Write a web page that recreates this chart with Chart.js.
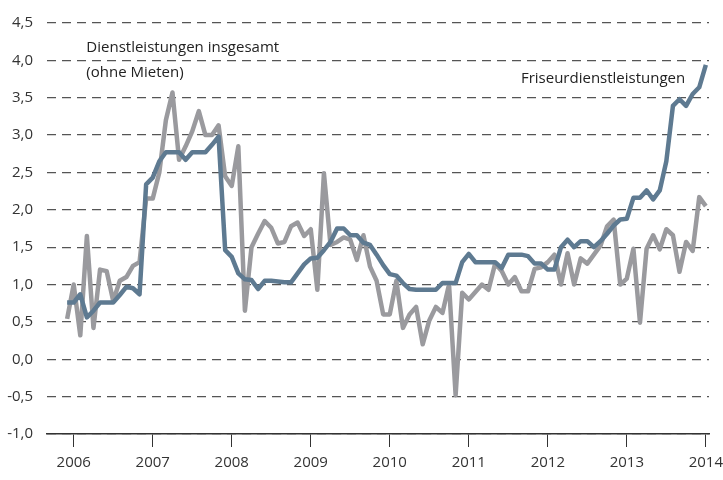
<!DOCTYPE html>
<html>
<head>
<meta charset="utf-8">
<script src="https://cdn.jsdelivr.net/npm/chart.js@4/dist/chart.umd.min.js"></script>
<style>
  html, body { margin: 0; padding: 0; background: #fff; }
  #wrap { width: 723px; height: 480px; }
</style>
</head>
<body>
<div id="wrap"><canvas id="myChart" width="723" height="480"></canvas></div>
<script>
// monthly values, Dec 2005 .. Jan 2014
const firstYear = 2005;
const firstMonth = 12;
const yearTicks = [2006, 2007, 2008, 2009, 2010, 2011, 2012, 2013, 2014];

const friseur = [
  0.76,
  0.76, 0.87, 0.56, 0.65, 0.76, 0.76, 0.76, 0.86, 0.97, 0.95, 0.87, 2.34,
  2.43, 2.65, 2.77, 2.77, 2.77, 2.67, 2.77, 2.77, 2.77, 2.87, 2.98, 1.46,
  1.37, 1.15, 1.07, 1.06, 0.94, 1.05, 1.05, 1.04, 1.03, 1.03, 1.15, 1.27,
  1.35, 1.36, 1.46, 1.57, 1.75, 1.75, 1.66, 1.66, 1.56, 1.53, 1.40, 1.26,
  1.14, 1.12, 1.02, 0.94, 0.93, 0.93, 0.93, 0.93, 1.02, 1.02, 1.02, 1.30,
  1.41, 1.30, 1.30, 1.30, 1.30, 1.22, 1.40, 1.40, 1.40, 1.38, 1.28, 1.28,
  1.20, 1.20, 1.50, 1.60, 1.50, 1.58, 1.58, 1.50, 1.58, 1.68, 1.79, 1.87,
  1.88, 2.16, 2.16, 2.26, 2.14, 2.26, 2.65, 3.39, 3.48, 3.39, 3.55, 3.64,
  3.94
];

const dienstleistungen = [
  0.54,
  1.00, 0.32, 1.65, 0.42, 1.20, 1.18, 0.78, 1.05, 1.10, 1.25, 1.30, 2.15,
  2.15, 2.50, 3.20, 3.57, 2.67, 2.85, 3.05, 3.32, 3.00, 3.00, 3.13, 2.45,
  2.32, 2.85, 0.65, 1.50, 1.68, 1.85, 1.76, 1.55, 1.57, 1.78, 1.83, 1.65,
  1.74, 0.93, 2.49, 1.53, 1.57, 1.63, 1.60, 1.33, 1.66, 1.24, 1.05, 0.60,
  0.60, 1.05, 0.42, 0.60, 0.70, 0.20, 0.52, 0.70, 0.62, 1.00, -0.48, 0.89,
  0.80, 0.90, 1.00, 0.93, 1.28, 1.18, 1.00, 1.10, 0.91, 0.91, 1.21, 1.23,
  1.30, 1.40, 1.00, 1.42, 1.00, 1.35, 1.28, 1.40, 1.52, 1.78, 1.87, 1.00,
  1.08, 1.48, 0.49, 1.48, 1.66, 1.47, 1.74, 1.66, 1.17, 1.57, 1.45, 2.17,
  2.05
];

function toPoints(values) {
  return values.map((v, i) => ({ x: firstYear + (firstMonth - 1 + i) / 12, y: v }));
}

const fontFamily = "'Open Sans', 'Noto Sans', sans-serif";

const labelPlugin = {
  id: 'seriesLabels',
  afterDatasetsDraw(chart) {
    const { ctx, scales } = chart;
    ctx.save();
    ctx.fillStyle = '#222';
    ctx.font = '15px ' + fontFamily;
    ctx.textBaseline = 'middle';
    ctx.textAlign = 'left';
    ctx.fillText('Dienstleistungen insgesamt', scales.x.getPixelForValue(2006.16), scales.y.getPixelForValue(4.17));
    ctx.fillText('(ohne Mieten)', scales.x.getPixelForValue(2006.16), scales.y.getPixelForValue(3.84));
    ctx.fillText('Friseurdienstleistungen', scales.x.getPixelForValue(2011.66), scales.y.getPixelForValue(3.75));
    ctx.restore();
  }
};

const ctx = document.getElementById('myChart').getContext('2d');
const myChart = new Chart(ctx, {
  type: 'line',
  data: {
    datasets: [
      {
        label: 'Friseurdienstleistungen',
        data: toPoints(friseur),
        borderColor: '#5e7a91',
        borderWidth: 4.5,
        pointRadius: 0,
        tension: 0,
        borderJoinStyle: 'round',
      },
      {
        label: 'Dienstleistungen insgesamt (ohne Mieten)',
        data: toPoints(dienstleistungen),
        borderColor: '#9a9a9e',
        borderWidth: 4.5,
        pointRadius: 0,
        tension: 0,
        borderJoinStyle: 'round',
      },
    ],
  },
  options: {
    responsive: false,
    animation: false,
    layout: { padding: { top: 16, right: 14, left: 0, bottom: 0 } },
    plugins: {
      legend: { display: false },
      tooltip: { enabled: false },
    },
    scales: {
      x: {
        type: 'linear',
        min: 2005.662,
        max: 2014.04,
        afterBuildTicks(scale) {
          scale.ticks = yearTicks.map(v => ({ value: v }));
        },
        afterFit(scale) {
          scale.height = 46;
          scale.paddingLeft = 0;
          scale.paddingRight = 0;
        },
        grid: {
          drawOnChartArea: false,
          drawTicks: true,
          tickLength: 13,
          tickColor: '#333',
          tickWidth: 1,
        },
        border: { display: true, color: '#333', width: 1.5 },
        ticks: {
          autoSkip: false,
          maxRotation: 0,
          padding: 7,
          color: '#333',
          font: { family: fontFamily, size: 15 },
          callback: v => String(v),
        },
      },
      y: {
        min: -1,
        max: 4.5,
        afterFit(scale) { scale.width = 47; },
        grid: {
          color: '#555',
          lineWidth: 1.3,
          drawTicks: false,
        },
        border: { display: false, dash: [9, 6] },
        ticks: {
          stepSize: 0.5,
          padding: 14,
          color: '#333',
          font: { family: fontFamily, size: 15 },
          callback: v => v.toFixed(1).replace('.', ','),
        },
      },
    },
  },
  plugins: [labelPlugin],
});
</script>
</body>
</html>
